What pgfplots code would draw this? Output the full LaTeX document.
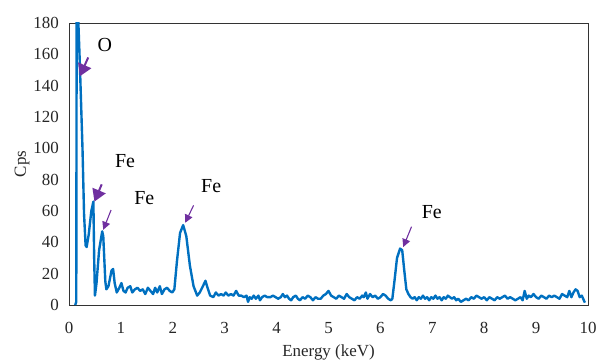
\documentclass[border=0pt]{standalone}
\usepackage{fontspec}
\setmainfont{Liberation Serif}
\usepackage{pgfplots}
\pgfplotsset{compat=1.18}
\usetikzlibrary{arrows.meta}
\definecolor{specblue}{RGB}{0,112,192}
\definecolor{arrpurple}{RGB}{112,48,160}
\pgfplotstableread{
E C
0.12 0
0.14 2
0.15 240
0.17 190
0.21 153
0.26 100
0.29 58
0.32 38
0.34 37
0.38 45
0.43 60
0.47 66
0.485 30
0.50 6
0.53 14
0.58 35
0.64 47
0.66 44
0.70 15
0.72 10
0.76 12
0.82 22
0.85 23
0.88 14
0.92 8
0.97 11
1.01 14
1.05 9
1.09 8
1.13 11
1.18 12
1.22 8
1.27 10
1.32 11
1.37 9
1.42 10
1.47 7
1.52 11
1.57 9
1.62 7
1.66 11
1.70 8
1.75 12
1.79 7
1.84 10
1.89 11
1.94 9
1.99 8
2.03 10
2.08 28
2.14 46
2.20 51
2.26 44
2.33 25
2.40 12
2.47 6
2.52 8
2.58 12
2.63 15.5
2.66 12
2.72 6
2.78 5
2.83 8
2.88 6
2.93 7
2.98 6
3.02 8
3.07 6
3.12 7
3.17 6
3.22 9
3.27 6
3.32 6
3.37 5
3.42 6
3.45 2
3.48 5
3.52 4
3.56 6
3.60 4
3.65 6
3.68 3
3.72 5
3.77 6
3.82 5
3.88 5
3.93 6
3.98 5
4.03 4
4.08 5
4.12 7
4.16 5
4.20 6
4.24 4
4.28 3
4.32 5
4.37 6
4.41 4
4.45 3
4.50 5
4.55 4
4.60 6
4.65 5
4.70 3
4.75 5
4.80 4
4.85 4
4.90 6
4.95 7
5.00 9
5.05 6
5.10 5
5.15 4
5.20 6
5.25 5
5.30 4
5.35 7
5.40 5
5.45 4
5.50 3
5.55 5
5.60 4
5.65 6
5.68 5
5.72 8
5.75 4
5.80 7
5.85 5
5.90 6
5.95 4
6.00 5
6.05 7
6.10 6
6.15 4
6.20 3
6.23 4
6.27 15
6.32 30
6.38 36
6.42 35
6.46 22
6.50 10
6.54 7
6.58 5
6.62 4
6.66 5
6.70 3
6.74 5
6.78 4
6.82 6
6.86 4
6.90 5
6.94 3
6.98 5
7.02 4
7.06 6
7.10 4
7.14 5
7.18 3
7.22 5
7.26 4
7.30 6
7.34 5
7.38 4
7.42 5
7.46 3
7.50 4
7.55 2
7.60 3
7.65 4
7.70 3
7.75 5
7.80 4
7.85 6
7.90 5
7.95 4
8.00 5
8.05 3
8.10 5
8.15 4
8.20 3
8.25 5
8.30 4
8.35 5
8.40 6
8.45 4
8.50 5
8.55 4
8.60 3
8.65 4
8.70 5
8.74 3
8.78 9
8.82 4
8.86 6
8.90 5
8.95 7
9.00 5
9.05 4
9.10 6
9.15 5
9.20 4
9.25 6
9.30 5
9.35 6
9.40 5
9.45 4
9.50 7
9.55 6
9.60 5
9.64 9
9.68 5
9.72 8
9.76 10
9.80 9
9.84 5
9.88 6
9.92 3
9.94 1.5
}\spectrum
\begin{document}
\begin{tikzpicture}
\begin{axis}[
  at={(0,0)}, anchor=south west,
  width=519bp, height=282bp, scale only axis,
  xmin=0, xmax=10, ymin=0, ymax=180,
  xtick={0,1,...,10}, ytick={0,20,...,180},
  major tick length=0pt,
  axis line style={draw=black!80, line width=0.8pt},
  /pgf/number format/assume math mode=true,
  tick label style={font=\fontsize{17}{19}\selectfont, text=black!85},
  xticklabel style={anchor=center, yshift=-23bp},
  yticklabel style={anchor=east, inner sep=0pt, xshift=-10bp},
  xlabel={Energy (keV)}, ylabel={Cps},
  label style={font=\fontsize{17}{19}\selectfont, text=black!85},
  xlabel style={at={(axis description cs:0.5,0)}, anchor=center, yshift=-47bp},
  ylabel style={at={(axis description cs:0,0.5)}, anchor=center, yshift=47bp},
  clip=true,
]
\addplot[specblue, line width=2.4pt, line join=round] table[x=E, y=C] {\spectrum};
\draw[arrpurple, line width=2pt, -{Triangle[length=12bp, width=14bp]}] (axis cs:0.37,158) -- (axis cs:0.21,146);
\draw[arrpurple, line width=2pt, -{Triangle[length=12bp, width=14bp]}] (axis cs:0.63,77) -- (axis cs:0.49,66);
\draw[arrpurple, line width=1.1pt, -{Triangle[length=8bp, width=8bp]}] (axis cs:0.81,60.6) -- (axis cs:0.66,48);
\draw[arrpurple, line width=1.1pt, -{Triangle[length=8bp, width=8bp]}] (axis cs:2.40,63.6) -- (axis cs:2.24,52.5);
\draw[arrpurple, line width=1.1pt, -{Triangle[length=8bp, width=8bp]}] (axis cs:6.60,50) -- (axis cs:6.44,37);
\begin{scope}[every node/.style={font=\fontsize{20}{22}\selectfont, text=black}]
\node at (axis cs:0.69,166) {O};
\node at (axis cs:1.08,92) {Fe};
\node at (axis cs:1.45,68) {Fe};
\node at (axis cs:2.74,76) {Fe};
\node at (axis cs:6.99,59) {Fe};
\end{scope}
\end{axis}
\pgfresetboundingbox
\useasboundingbox (-69bp,-56bp) rectangle (529bp,305bp);
\end{tikzpicture}
\end{document}
